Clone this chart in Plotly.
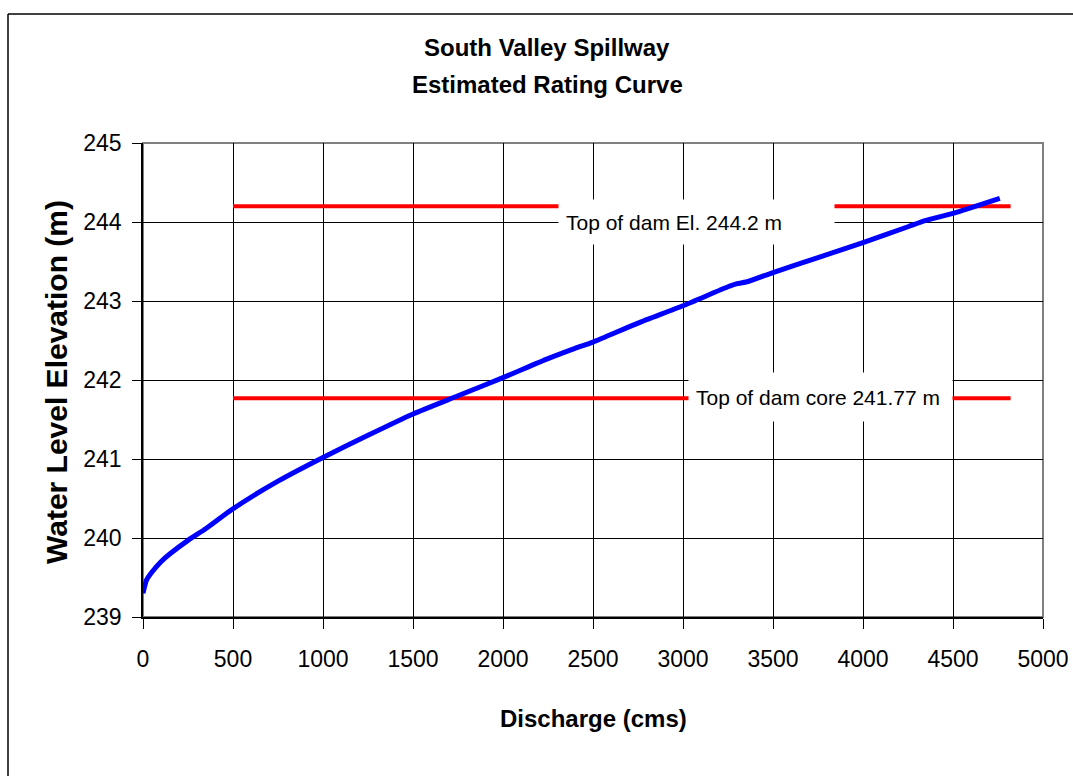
import plotly.graph_objects as go

# Rating curve
discharge = [0, 20, 50, 100, 150, 250, 350, 500, 750, 1000, 1250, 1500, 1750, 2000,
             2250, 2400, 2500, 2750, 3000, 3250, 3300, 3350, 3500, 3750, 4000, 4250,
             4350, 4500, 4760]
elevation = [239.30, 239.47, 239.57, 239.70, 239.80, 239.97, 240.12, 240.37, 240.72,
             241.02, 241.30, 241.57, 241.80, 242.03, 242.27, 242.40, 242.48, 242.72,
             242.94, 243.18, 243.22, 243.24, 243.36, 243.55, 243.74, 243.94, 244.02,
             244.11, 244.30]

# Reference levels
ref_x = [500, 4820]
dam_top = 244.2
dam_core = 241.77
dam_top_label = "Top of dam El. 244.2 m"
dam_core_label = "Top of dam core 241.77 m"

x_ticks = [0, 500, 1000, 1500, 2000, 2500, 3000, 3500, 4000, 4500, 5000]
y_ticks = [239, 240, 241, 242, 243, 244, 245]

FONT = "Liberation Sans, Arial, sans-serif"

fig = go.Figure()
fig.add_trace(go.Scatter(x=ref_x, y=[dam_top, dam_top], mode="lines",
                         line=dict(color="#ff0000", width=4), hoverinfo="skip"))
fig.add_trace(go.Scatter(x=ref_x, y=[dam_core, dam_core], mode="lines",
                         line=dict(color="#ff0000", width=4), hoverinfo="skip"))
fig.add_trace(go.Scatter(x=discharge, y=elevation, mode="lines",
                         line=dict(color="#0000ff", width=5, shape="spline", smoothing=0.6)))

# body margin is removed in the page (post_script), so figure coords = screen coords
W, H = 1073, 776
L, T = 143, 143
R = W - 1043
B = H - 617
pw, ph = W - L - R, H - T - B

def px(xs):
    return (xs - L) / pw

def py(ys):
    return (H - B - ys) / ph

annotations = [
    dict(text="<b>South Valley Spillway</b>", x=px(547), y=py(47), xref="paper", yref="paper",
         showarrow=False, font=dict(family=FONT, size=24, color="black"),
         xanchor="center", yanchor="middle"),
    dict(text="<b>Estimated Rating Curve</b>", x=px(547), y=py(85), xref="paper", yref="paper",
         showarrow=False, font=dict(family=FONT, size=24, color="black"),
         xanchor="center", yanchor="middle"),
    dict(text="<b>Water Level Elevation (m)</b>", x=px(56), y=py(382), xref="paper", yref="paper",
         showarrow=False, textangle=-90, font=dict(family=FONT, size=30, color="black"),
         xanchor="center", yanchor="middle"),
    dict(text="<b>Discharge (cms)</b>", x=px(593), y=py(718), xref="paper", yref="paper",
         showarrow=False, font=dict(family=FONT, size=24, color="black"),
         xanchor="center", yanchor="middle"),
    dict(text=dam_top_label, x=3075, y=244.0, xref="x", yref="y", showarrow=False,
         font=dict(family=FONT, size=21, color="black"), bgcolor="white",
         width=261, height=30, borderpad=7, align="left",
         xanchor="center", yanchor="middle"),
    dict(text=dam_core_label, x=3765, y=241.78, xref="x", yref="y", showarrow=False,
         font=dict(family=FONT, size=21, color="black"), bgcolor="white",
         width=249, height=34, borderpad=7, align="left",
         xanchor="center", yanchor="middle"),
]

shapes = [
    # outer frame (left and top edges visible)
    dict(type="line", xref="paper", yref="paper", x0=px(8), y0=py(14), x1=px(1100), y1=py(14),
         line=dict(color="black", width=1.5), layer="below"),
    dict(type="line", xref="paper", yref="paper", x0=px(8), y0=py(14), x1=px(8), y1=py(800),
         line=dict(color="black", width=1.5), layer="below"),
    # plot-area border (grey)
    dict(type="rect", xref="paper", yref="paper", x0=0, y0=0, x1=1, y1=1,
         line=dict(color="#808080", width=2), layer="between"),
]

fig.update_layout(
    width=W, height=H,
    margin=dict(l=L, r=R, t=T, b=B, autoexpand=False),
    paper_bgcolor="white", plot_bgcolor="white",
    showlegend=False,
    annotations=annotations,
    shapes=shapes,
    font=dict(family=FONT, size=23, color="black"),
)
fig.update_xaxes(range=[0, 5000], tickvals=x_ticks, ticktext=[str(v) for v in x_ticks],
                 showgrid=True, gridcolor="black", gridwidth=1, zeroline=False,
                 showline=True, linecolor="black", linewidth=1.5, automargin=False,
                 ticks="outside", ticklen=10, tickcolor="black", tickwidth=1,
                 ticklabeloverflow="allow",
                 ticklabelstandoff=11, tickfont=dict(family=FONT, size=23, color="black"))
fig.update_yaxes(range=[239, 245], tickvals=y_ticks, ticktext=[str(v) for v in y_ticks],
                 showgrid=True, gridcolor="black", gridwidth=1, zeroline=False,
                 showline=True, linecolor="black", linewidth=1.5, automargin=False,
                 ticks="outside", ticklen=9, tickcolor="black", tickwidth=1,
                 ticklabelstandoff=6, tickfont=dict(family=FONT, size=23, color="black"))

fig.write_html("out.html", config={"displayModeBar": False},
               post_script="document.body.style.margin='0';document.body.style.overflow='hidden';")
